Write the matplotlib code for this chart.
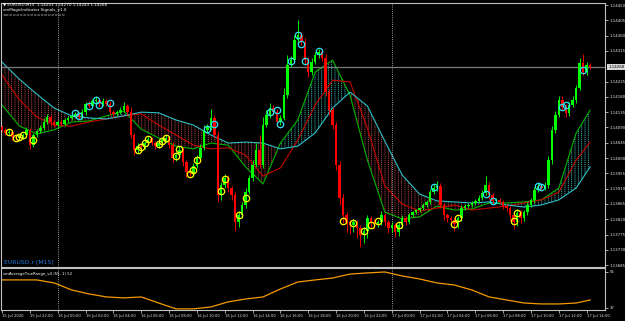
import numpy as np
import matplotlib
matplotlib.use("Agg")
import matplotlib.pyplot as plt
from matplotlib import transforms

plt.rcParams['font.family'] = ['DejaVu Sans']
plt.rcParams['hatch.linewidth'] = 0.6

# ---------------- data (EURUSD M15) ----------------
first_open = 1.14090
closes = [
    1.14083, 1.14074, 1.14077, 1.14062, 1.14059, 1.14065, 1.14068, 1.14083, 1.14038, 1.14068,
    1.14080, 1.14088, 1.14106, 1.14121, 1.14106, 1.14097, 1.14106, 1.14100, 1.14112, 1.14118,
    1.14124, 1.14130, 1.14121, 1.14135, 1.14159, 1.14153, 1.14168, 1.14171, 1.14159, 1.14168,
    1.14159, 1.14135, 1.14130, 1.14135, 1.14141, 1.14153, 1.14135, 1.14068, 1.14024, 1.14035,
    1.14033, 1.14044, 1.14056, 1.14044, 1.14035, 1.14044, 1.14053, 1.14059, 1.14038, 1.14000,
    1.14009, 1.14024, 1.13988, 1.13959, 1.13956, 1.13977, 1.14000, 1.14030, 1.14083, 1.14091,
    1.14118, 1.14068, 1.13891, 1.13921, 1.13941, 1.13912, 1.13891, 1.13812, 1.13833, 1.13862,
    1.13900, 1.13941, 1.13980, 1.14024, 1.13980, 1.14097, 1.14127, 1.14147, 1.14135, 1.14106,
    1.14118, 1.14185, 1.14274, 1.14288, 1.14347, 1.14362, 1.14341, 1.14288, 1.14253, 1.14282,
    1.14303, 1.14312, 1.14294, 1.14194, 1.14141, 1.14097, 1.13980, 1.13883, 1.13833, 1.13812,
    1.13803, 1.13812, 1.13794, 1.13774, 1.13786, 1.13824, 1.13812, 1.13806, 1.13812, 1.13833,
    1.13812, 1.13794, 1.13803, 1.13783, 1.13803, 1.13824, 1.13812, 1.13833, 1.13841, 1.13847,
    1.13853, 1.13862, 1.13871, 1.13900, 1.13912, 1.13918, 1.13862, 1.13833, 1.13824, 1.13818,
    1.13806, 1.13824, 1.13853, 1.13859, 1.13862, 1.13868, 1.13874, 1.13883, 1.13897, 1.13921,
    1.13891, 1.13874, 1.13877, 1.13871, 1.13859, 1.13853, 1.13833, 1.13812, 1.13839, 1.13824,
    1.13841, 1.13862, 1.13877, 1.13906, 1.13918, 1.13912, 1.13921, 1.13994, 1.14083, 1.14127,
    1.14171, 1.14150, 1.14133, 1.14156, 1.14171, 1.14206, 1.14280, 1.14253, 1.14274, 1.14268,
]
upper_wick_pts = [
    6, 4, 8, 5, 4, 6, 5, 8, 6, 5,
    6, 8, 12, 10, 6, 5, 6, 5, 6, 5,
    6, 5, 6, 8, 5, 8, 6, 10, 6, 8,
    6, 8, 5, 6, 8, 12, 6, 15, 6, 8,
    5, 6, 8, 6, 5, 6, 5, 8, 6, 10,
    8, 10, 8, 6, 5, 8, 10, 12, 15, 10,
    25, 10, 12, 10, 12, 8, 6, 8, 10, 8,
    12, 10, 15, 20, 45, 25, 15, 15, 8, 10,
    10, 20, 30, 12, 15, 44, 10, 12, 10, 12,
    10, 10, 8, 12, 10, 8, 10, 12, 10, 8,
    6, 8, 6, 8, 10, 8, 6, 8, 6, 10,
    6, 5, 8, 6, 8, 8, 6, 5, 4, 4,
    4, 5, 6, 10, 12, 15, 8, 6, 5, 6,
    8, 6, 8, 5, 5, 6, 5, 8, 10, 25,
    8, 6, 5, 5, 6, 5, 6, 8, 10, 8,
    6, 8, 6, 10, 8, 6, 8, 12, 10, 12,
    10, 10, 8, 8, 12, 10, 15, 25, 8, 6,
]
lower_wick_pts = [
    6, 5, 6, 8, 6, 5, 8, 6, 10, 6,
    5, 5, 6, 5, 8, 6, 5, 6, 5, 5,
    5, 6, 5, 6, 8, 6, 5, 6, 8, 5,
    6, 8, 10, 6, 5, 6, 8, 10, 15, 10,
    8, 6, 5, 6, 8, 5, 6, 5, 8, 12,
    8, 6, 10, 15, 12, 8, 6, 5, 6, 8,
    8, 10, 20, 15, 10, 12, 15, 25, 15, 10,
    8, 6, 8, 6, 10, 8, 6, 10, 8, 12,
    8, 6, 8, 6, 8, 6, 8, 12, 15, 8,
    6, 8, 10, 12, 15, 12, 15, 20, 25, 30,
    25, 20, 30, 35, 25, 20, 15, 12, 10, 8,
    12, 15, 10, 15, 12, 8, 10, 6, 5, 5,
    5, 5, 6, 5, 6, 8, 10, 15, 12, 10,
    20, 12, 8, 6, 5, 5, 6, 5, 6, 6,
    10, 8, 6, 6, 8, 8, 15, 20, 12, 15,
    10, 8, 6, 8, 6, 8, 6, 8, 10, 8,
    6, 10, 12, 8, 6, 8, 6, 8, 10, 6,
]

# indicator lines, read every 5 bars (+ last bar)
sample_bars = list(range(0, 170, 5)) + [169]
fast_line = [1.14156, 1.14094, 1.14071, 1.14083, 1.14106, 1.14109, 1.14124, 1.14138, 1.14085, 1.14059,
             1.14035, 1.14027, 1.14044, 1.14038, 1.13974, 1.13924, 1.14044, 1.14112, 1.14253, 1.14288,
             1.14185, 1.13994, 1.13841, 1.13821, 1.13827, 1.13859, 1.13847, 1.13850, 1.13868, 1.13868,
             1.13871, 1.13877, 1.13912, 1.14074, 1.14141]
mid_line = [1.14244, 1.14171, 1.14121, 1.14097, 1.14094, 1.14106, 1.14115, 1.14124, 1.14130, 1.14097,
            1.14068, 1.14038, 1.14027, 1.14030, 1.14009, 1.13947, 1.13971, 1.14053, 1.14156, 1.14229,
            1.14224, 1.14088, 1.13918, 1.13865, 1.13844, 1.13853, 1.13862, 1.13847, 1.13853, 1.13859,
            1.13868, 1.13877, 1.13900, 1.13994, 1.14047]
slow_line = [1.14282, 1.14232, 1.14188, 1.14147, 1.14124, 1.14118, 1.14115, 1.14124, 1.14135, 1.14133,
             1.14112, 1.14097, 1.14068, 1.14044, 1.14047, 1.14044, 1.14027, 1.14035, 1.14074, 1.14147,
             1.14194, 1.14153, 1.14050, 1.13950, 1.13894, 1.13874, 1.13871, 1.13868, 1.13871, 1.13862,
             1.13856, 1.13862, 1.13877, 1.13912, 1.13974]
atr_values = [51.8, 51.8, 51.8, 50.2, 46.5, 44.4, 42.8, 42.3, 42.8, 39.6,
              36.5, 36.5, 37.5, 40.2, 41.7, 42.8, 47.0, 50.7, 51.8, 52.8,
              54.9, 55.5, 56.0, 53.9, 52.3, 50.2, 49.1, 46.5, 42.8, 41.2,
              39.6, 39.1, 39.1, 39.6, 41.2]

yellow_bars = [2, 4, 5, 6, 9, 39, 40, 41, 42, 45, 46, 47, 50, 51, 54, 55, 56, 63, 64, 68, 70,
               98, 101, 104, 106, 108, 114, 130, 131, 147, 148]
yellow_prices = [1.14077, 1.14059, 1.14062, 1.14068, 1.14053, 1.14024, 1.14033, 1.14044, 1.14056,
                 1.14041, 1.14050, 1.14059, 1.14006, 1.14027, 1.13953, 1.13965, 1.13994, 1.13903,
                 1.13938, 1.13833, 1.13883, 1.13815, 1.13809, 1.13786, 1.13803, 1.13815, 1.13803,
                 1.13806, 1.13824, 1.13815, 1.13839]
cyan_bars = [21, 22, 25, 27, 28, 31, 59, 61, 77, 79, 80, 83, 85, 86, 87, 91, 124, 139, 141,
             154, 155, 161, 162, 167]
cyan_prices = [1.14133, 1.14124, 1.14153, 1.14171, 1.14156, 1.14162, 1.14085, 1.14100, 1.14135,
               1.14141, 1.14100, 1.14285, 1.14362, 1.14335, 1.14285, 1.14315, 1.13915, 1.13894,
               1.13874, 1.13918, 1.13915, 1.14150, 1.14156, 1.14259]

time_labels = ["15 Jul 2020", "15 Jul 22:00", "16 Jul 00:00", "16 Jul 02:00", "16 Jul 04:00",
               "16 Jul 06:00", "16 Jul 08:00", "16 Jul 10:00", "16 Jul 12:00", "16 Jul 14:00",
               "16 Jul 16:00", "16 Jul 18:00", "16 Jul 20:00", "16 Jul 22:00", "17 Jul 00:00",
               "17 Jul 02:00", "17 Jul 04:00", "17 Jul 06:00", "17 Jul 08:00", "17 Jul 10:00",
               "17 Jul 12:00", "17 Jul 14:00"]
price_labels = ["1.14450", "1.14405", "1.14360", "1.14315", "1.14225", "1.14180", "1.14135",
                "1.14090", "1.14045", "1.14000", "1.13955", "1.13910", "1.13865", "1.13820",
                "1.13775", "1.13730", "1.13685"]
bid_price = 1.14268
day_separators = [16, 112]
header_lines = ["\u25bc EURUSD,M15  1.14253 1.14270 1.14243 1.14268",
                "smMagicIndicator Signals_v1.0",
                "=================="]
symbol_label = "EURUSD.r [M15]"
atr_label = "smAverageTrueRange_v4 (55, 1) 52"

# ---------------- figure ----------------
W, H = 625, 321
fig = plt.figure(figsize=(W / 100, H / 100), dpi=100, facecolor='black')


def rect(x0, y0, x1, y1):
    return [x0 / W, 1 - y1 / H, (x1 - x0) / W, (y1 - y0) / H]


ax = fig.add_axes(rect(1, 3, 605, 267), facecolor='black')
sub = fig.add_axes(rect(1, 268, 605, 310), facecolor='black')

PX = 3.48
xlim = (-1 / PX, (605 - 2) / PX)
for a in (ax, sub):
    a.set_xlim(*xlim)
    for s in a.spines.values():
        s.set_color('#c0c0c0')
        s.set_linewidth(0.8)
ax.set_ylim(1.136797, 1.144559)
sub.set_ylim(35.9, 58.1)

sb = np.array(sample_bars)
g = np.array(fast_line)
r = np.array(mid_line)
c = np.array(slow_line)

# dotted cloud between fast and slow line
ax.fill_between(sb, g, c, where=g >= c, interpolate=True, facecolor='none',
                edgecolor='#38bcbc', hatch='|||||', linewidth=0, zorder=1)
ax.fill_between(sb, g, c, where=g < c, interpolate=True, facecolor='none',
                edgecolor='#b84848', hatch='|||||', linewidth=0, zorder=1)
ax.fill_between(sb, g, c, facecolor='none', edgecolor='black', hatch='--------',
                linewidth=0, zorder=1.5)

ax.plot(sb, g, color='#00b400', lw=0.8, zorder=2)
ax.plot(sb, r, color='#c80000', lw=0.8, zorder=2)
ax.plot(sb, c, color='#2cc0c8', lw=0.8, zorder=2)

# candles
cl = np.array(closes)
op = np.concatenate([[first_open], cl[:-1]])
hi = np.maximum(op, cl) + np.array(upper_wick_pts) * 1e-5
lo = np.minimum(op, cl) - np.array(lower_wick_pts) * 1e-5
idx = np.arange(len(cl))
cols = np.where(cl >= op, '#00ff00', '#ff0000')
ax.vlines(idx, lo, hi, colors=cols, lw=0.65, zorder=3)
ax.bar(idx, np.maximum(np.abs(cl - op), 0.00002), bottom=np.minimum(op, cl), width=0.72,
       color=cols, linewidth=0, zorder=3)

# signal circles
ax.plot(yellow_bars, yellow_prices, 'o', ms=4.6, mfc='none', mec='#ffff00', mew=0.9, zorder=4)
ax.plot(cyan_bars, cyan_prices, 'o', ms=4.6, mfc='none', mec='#30e0f0', mew=0.9, zorder=4)

# bid line
ax.axhline(bid_price, color='#7a7a7a', lw=0.9, zorder=2.5)
for d in day_separators:
    for a in (ax, sub):
        a.axvline(d, color='#c8c8c8', lw=0.6, linestyle=(0, (1, 1.6)), zorder=2.6)

# price axis
ax.yaxis.tick_right()
ax.set_yticks([float(p) for p in price_labels])
ax.set_yticklabels(price_labels)
ax.tick_params(axis='y', length=2, width=0.6, colors='#c0c0c0', labelcolor='#e8e8e8',
               labelsize=2.8, pad=1.5)
ax.tick_params(axis='x', bottom=False, labelbottom=False)
tr = transforms.blended_transform_factory(ax.transAxes, ax.transData)
ax.text(1.006, bid_price, f"{bid_price:.5f}", transform=tr, ha='left', va='center',
        fontsize=2.8, color='black', clip_on=False, zorder=10,
        bbox=dict(boxstyle='square,pad=0.35', fc='#d8d8d8', ec='none'))

# ATR sub panel
sub.plot(sb, atr_values, color='#f59a00', lw=0.9)
sub.yaxis.tick_right()
sub.set_yticks([37, 56])
sub.set_yticklabels(['37', '56'])
sub.tick_params(axis='y', length=2, width=0.6, colors='#c0c0c0', labelcolor='#e8e8e8',
                labelsize=2.8, pad=1.5)
sub.set_xticks(range(0, 8 * len(time_labels), 8))
sub.set_xticklabels(time_labels)
sub.tick_params(axis='x', length=2, width=0.6, colors='#c0c0c0', labelcolor='#e0e0e0',
                labelsize=2.7, pad=1)
for lbl in sub.get_xticklabels():
    lbl.set_ha('left')

# texts
for txt, yy in zip(header_lines, [4.5, 10, 15.5]):
    fig.text(3 / W, 1 - yy / H, txt, fontsize=3.0, color='white', va='center', ha='left')
fig.text(4 / W, 1 - 262 / H, symbol_label, fontsize=4.4, color='#1e78dc', va='center', ha='left')
fig.text(3 / W, 1 - 273.5 / H, atr_label, fontsize=2.8, color='white', va='center', ha='left')

fig.savefig('out.png', dpi=100, facecolor='black')
